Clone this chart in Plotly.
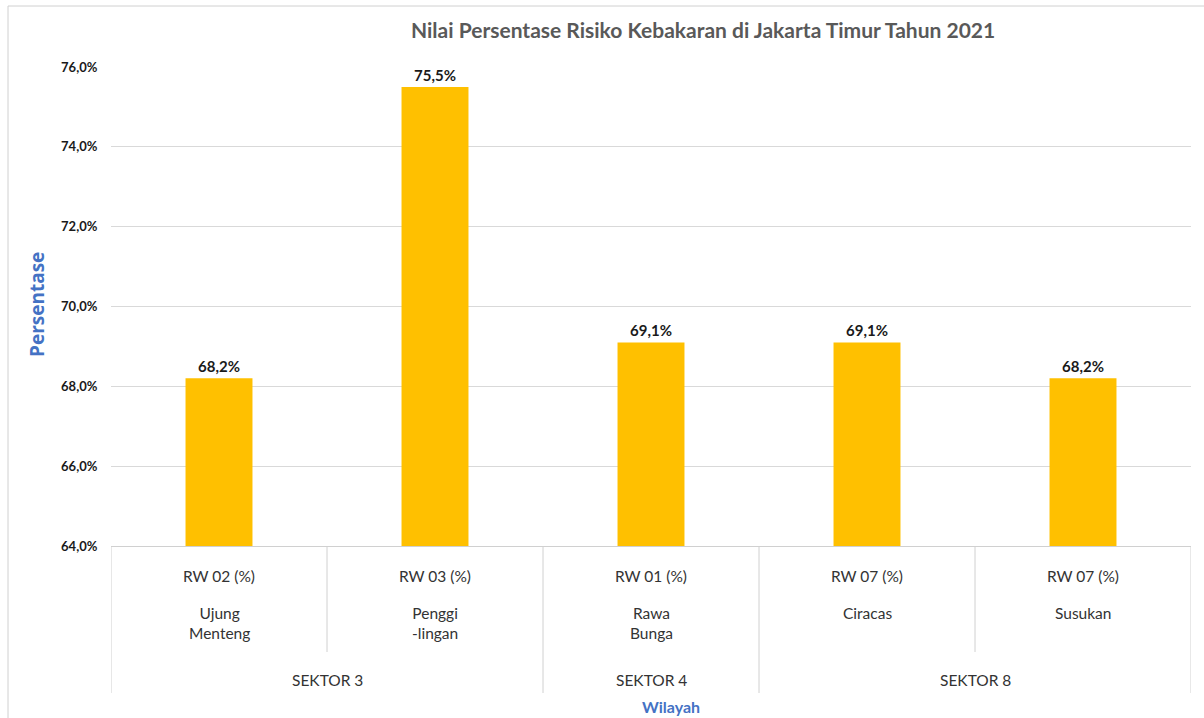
import plotly.graph_objects as go

# ---- data ----
rw_labels = ["RW 02 (%)", "RW 03 (%)", "RW 01 (%)", "RW 07 (%)", "RW 07 (%)"]
kelurahan = ["Ujung<br>Menteng", "Penggi<br>-lingan", "Rawa<br>Bunga", "Ciracas", "Susukan"]
sektor_labels = ["SEKTOR 3", "SEKTOR 4", "SEKTOR 8"]
sektor_span = [(0, 1), (2, 2), (3, 4)]
values = [68.2, 75.5, 69.1, 69.1, 68.2]
y_ticks = [64, 66, 68, 70, 72, 74, 76]

# ---- layout geometry (pixels) ----
W, H = 1204, 718
L, R, T, B = 111, 1191, 67, 546
PW, PH = R - L, B - T


def px(xp):
    return (xp - L) / PW


def py(yp):
    return (B - yp) / PH


x_idx = list(range(len(values)))

fig = go.Figure()
fig.add_trace(go.Bar(
    x=x_idx, y=values, width=0.31,
    marker=dict(color="#FFC000", line=dict(width=0)),
    texttemplate="%{y:.1f}%", textposition="outside",
    textfont=dict(family="Lato", size=15, color="#1a1a1a", weight="bold"),
    cliponaxis=False, hoverinfo="skip",
))

annotations = []
# title
annotations.append(dict(
    text="Nilai Persentase Risiko Kebakaran di Jakarta Timur Tahun 2021",
    xref="paper", yref="paper", x=px(703), y=py(30), showarrow=False,
    xanchor="center", yanchor="middle",
    font=dict(family="Lato", size=21, color="#595959", weight="bold")))
# y-axis title
annotations.append(dict(
    text="Persentase", xref="paper", yref="paper", x=px(37), y=py(305),
    textangle=-90, showarrow=False, xanchor="center", yanchor="middle",
    font=dict(family="Open Sans", size=19, color="#4472C4", weight="bold")))
# x-axis title
annotations.append(dict(
    text="Wilayah", xref="paper", yref="paper", x=px(671), y=py(706),
    showarrow=False, xanchor="center", yanchor="middle",
    font=dict(family="Lato", size=16, color="#4472C4", weight="bold")))

tfont = dict(family="Lato", size=15.5, color="#333333")
for i in x_idx:
    annotations.append(dict(text=rw_labels[i], xref="x", yref="paper", x=i, y=py(576),
                            showarrow=False, xanchor="center", yanchor="middle", font=tfont))
    annotations.append(dict(text=kelurahan[i], xref="x", yref="paper", x=i, y=py(602),
                            showarrow=False, xanchor="center", yanchor="top", font=tfont))
for lab, (a, b) in zip(sektor_labels, sektor_span):
    annotations.append(dict(text=lab, xref="x", yref="paper", x=(a + b) / 2, y=py(680),
                            showarrow=False, xanchor="center", yanchor="middle", font=tfont))

shapes = []
line_col = "#d0d0d0"
# vertical dividers in table
full_bounds = [-0.5] + [b + 0.5 for (_, b) in sektor_span]
for xb in [i - 0.5 for i in range(len(values) + 1)]:
    ybot = py(693) if xb in full_bounds else py(652)
    shapes.append(dict(type="line", xref="x", yref="paper", x0=xb, x1=xb, y0=0, y1=ybot,
                       line=dict(color=line_col, width=1)))
# chart outer border (left & top)
shapes.append(dict(type="line", xref="paper", yref="paper", x0=px(8), x1=px(8), y0=py(6), y1=py(720),
                   line=dict(color=line_col, width=1)))
shapes.append(dict(type="line", xref="paper", yref="paper", x0=px(8), x1=px(1206), y0=py(6), y1=py(6),
                   line=dict(color=line_col, width=1)))

fig.update_layout(
    width=W, height=H,
    margin=dict(l=L, r=W - R, t=T, b=H - B),
    paper_bgcolor="white", plot_bgcolor="white",
    separators=",.",
    showlegend=False,
    annotations=annotations, shapes=shapes,
    xaxis=dict(range=[-0.5, len(values) - 0.5], showticklabels=False, showgrid=False,
               zeroline=False, showline=True, linecolor=line_col, linewidth=1, ticks=""),
    yaxis=dict(range=[64, 76], tickvals=y_ticks,
               ticktext=[f"{v:.1f}%".replace(".", ",") for v in y_ticks],
               showgrid=True, gridcolor="#d9d9d9", gridwidth=1, zeroline=False,
               showline=False, ticks="outside", ticklen=10, tickcolor="rgba(0,0,0,0)",
               tickfont=dict(family="Lato", size=13, color="#1a1a1a", weight="bold")),
)

fig.write_html("out.html")
